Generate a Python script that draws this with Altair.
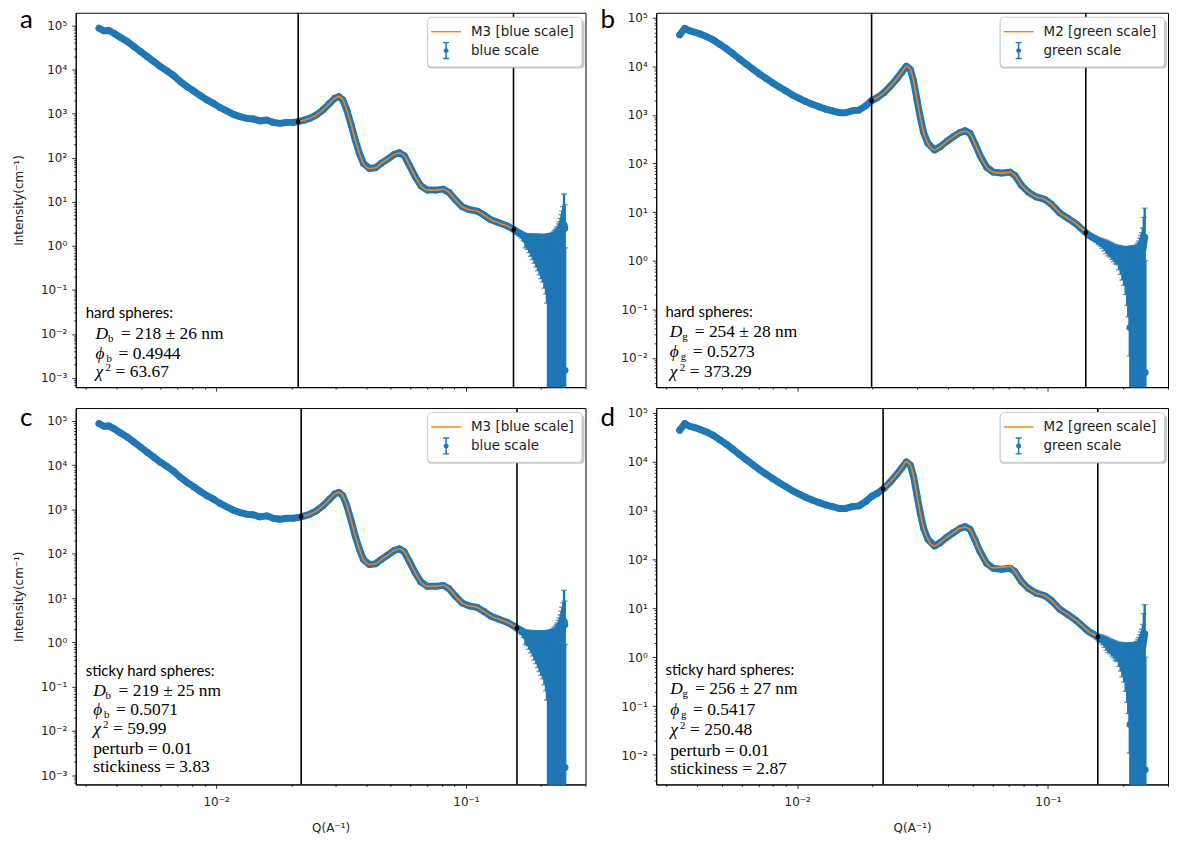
import altair as alt
import numpy as np
import pandas as pd

BLUE = "#1f77b4"
ORANGE = "#ff7f0e"

# ---------------- blue scale data (panels a, c) ----------------
q_blue = [0.003397, 0.003556, 0.003723, 0.003898, 0.004145, 0.004407, 0.004684, 0.004980, 0.005296, 0.005626,
          0.005982, 0.006362, 0.006759, 0.007187, 0.007642, 0.008122, 0.008636, 0.009183, 0.009755, 0.01037,
          0.01103, 0.01172, 0.01246, 0.01325, 0.01408, 0.01497, 0.01592, 0.01692, 0.01799, 0.01913, 0.02032,
          0.02128, 0.02262, 0.02368, 0.02519, 0.02676, 0.02846, 0.02980, 0.03099, 0.03215, 0.03335,
          0.03472, 0.03603, 0.03748, 0.03887, 0.04107, 0.04340, 0.04574, 0.04859, 0.05167, 0.05410,
          0.05662, 0.05928, 0.06265, 0.06601, 0.07012, 0.07574, 0.08095, 0.08556, 0.09099, 0.09667,
          0.1028, 0.1109, 0.1180, 0.1254, 0.1354, 0.1461]
i_blue = [86800, 75800, 77000, 66800, 53400, 43300, 33300, 25700, 19700, 15200,
          11700, 9340, 7310, 5340, 4110, 3280, 2570, 2050, 1710, 1370,
          1150, 964, 855, 782, 758, 683, 719, 634, 602, 634, 634,
          658, 719, 782, 934, 1214, 1714, 2227, 2434, 2048, 1214,
          554, 253, 125, 74.2, 57.1, 59.3, 74.2, 93.4, 119, 130,
          111, 68.3, 37, 23.1, 18.4, 18.4, 19.4, 16.3, 10.9, 7.70,
          6.68, 6.15, 4.99, 3.96, 3.33, 2.85]
q_blue_tail = [0.1553, 0.158, 0.161, 0.164, 0.167, 0.170, 0.173, 0.176, 0.179, 0.182, 0.185, 0.188,
               0.191, 0.194, 0.197, 0.200, 0.203, 0.206, 0.209, 0.211, 0.213, 0.215, 0.217, 0.219,
               0.221, 0.223, 0.225, 0.227, 0.229, 0.231, 0.233, 0.235, 0.237, 0.239, 0.241, 0.243,
               0.245, 0.247, 0.2485, 0.2495]
i_blue_tail = [2.35, 2.2, 2.05, 1.92, 1.8, 1.65, 1.4, 1.35, 1.28, 1.22, 1.17, 1.12,
               1.08, 1.05, 1.02, 1.0, 0.98, 0.96, 0.94, 0.93, 0.92, 0.91, 0.9, 0.91,
               0.92, 0.94, 0.97, 1.0, 1.05, 1.1, 1.15, 1.25, 1.35, 1.5, 1.7, 2.0,
               2.3, 3.0, 2.5, 0.0015]
err_blue_tail = [0.12, 0.16, 0.2, 0.25, 0.3, 0.35, 0.5, 0.52, 0.58, 0.64, 0.68, 0.72,
                 0.75, 0.78, 0.8, 0.82, 0.83, 0.85, 0.86, 0.88, 0.95, 0.96, 0.98, 1.0,
                 1.0, 1.05, 1.1, 1.2, 1.3, 1.45, 1.6, 1.9, 2.2, 2.7, 3.4, 4.2,
                 5.5, 12.0, 6.0, 0.9]

# ---------------- green scale data (panels b, d) ----------------
q_green = [0.003401, 0.003560, 0.003727, 0.003903, 0.004084, 0.004342, 0.004612, 0.004903, 0.005213, 0.005537,
           0.005886, 0.006258, 0.006645, 0.007066, 0.007512, 0.007979, 0.008484, 0.009020, 0.009580, 0.01018,
           0.01083, 0.01150, 0.01223, 0.01300, 0.01381, 0.01468, 0.01561, 0.01658, 0.01762, 0.01874, 0.01980,
           0.02084, 0.02214, 0.02354, 0.02500, 0.02618, 0.02725, 0.02826, 0.02912, 0.03002, 0.03097,
           0.03192, 0.03319, 0.03529, 0.03718, 0.03949, 0.04198, 0.04463, 0.04671, 0.04890, 0.05118,
           0.05358, 0.05690, 0.06048, 0.06525, 0.07047, 0.07378, 0.07834, 0.08329, 0.08986, 0.09703,
           0.1031, 0.1113, 0.1201, 0.1295]
i_green = [44400, 60500, 53500, 50100, 46500, 40900, 35100, 28500, 23000, 18200,
           14100, 11100, 8810, 6960, 5610, 4560, 3730, 3090, 2560, 2190,
           1870, 1650, 1460, 1310, 1210, 1110, 1110, 1210, 1250, 1530, 1960,
           2255, 2852, 3906, 5610, 7650, 10000, 8563, 4940, 2092, 881,
           435, 260, 190, 222, 285, 356, 435, 472, 415, 252,
           146, 84, 66.4, 63.4, 66.4, 56.9, 35.6, 26, 20.5, 18.2,
           14.6, 9.67, 7.44, 5.69]
q_green_tail = [0.1415, 0.144, 0.147, 0.150, 0.153, 0.156, 0.159, 0.162, 0.165, 0.168, 0.171, 0.174,
                0.177, 0.180, 0.183, 0.186, 0.189, 0.192, 0.195, 0.198, 0.201, 0.204, 0.207, 0.209,
                0.2115, 0.212, 0.213, 0.215, 0.217, 0.219, 0.221, 0.223, 0.225, 0.227, 0.229, 0.231,
                0.233, 0.235, 0.237, 0.239, 0.241, 0.243, 0.2445]
i_green_tail = [3.78, 3.5, 3.25, 3.05, 2.9, 2.72, 2.55, 2.42, 2.3, 2.15, 2.0, 1.88,
                1.78, 1.68, 1.58, 1.5, 1.42, 1.35, 1.27, 1.2, 1.13, 1.07, 1.02, 1.0,
                1.0, 0.042, 1.0, 1.0, 1.0, 1.0, 1.0, 1.0, 1.02, 1.05, 1.1, 1.15,
                1.22, 1.3, 1.45, 1.7, 2.3, 3.0, 0.005]
err_green_tail = [0.15, 0.18, 0.2, 0.25, 0.3, 0.35, 0.4, 0.45, 0.5, 0.55, 0.6, 0.62,
                  0.6, 0.62, 0.62, 0.64, 0.6, 0.7, 0.75, 0.8, 0.82, 0.87, 0.9, 0.93,
                  0.96, 0.031, 1.0, 1.0, 1.0, 1.0, 1.0, 1.02, 1.05, 1.1, 1.25, 1.4,
                  1.7, 2.0, 2.3, 3.0, 5.5, 9.0, 1.0]

# ---------------- model curves ----------------
q_m3_hs = [0.02128, 0.02262, 0.02368, 0.02519, 0.02676, 0.02846, 0.02980, 0.03099, 0.03215, 0.03335,
           0.03472, 0.03603, 0.03748, 0.03887, 0.04107, 0.04340, 0.04574, 0.04859, 0.05167, 0.05410,
           0.05662, 0.05928, 0.06265, 0.06601, 0.07012, 0.07574, 0.08095, 0.08556, 0.09099, 0.09667,
           0.1028, 0.1109, 0.1180, 0.1254, 0.1354, 0.1461, 0.1553]
i_m3_hs = [658, 719, 782, 934, 1214, 1714, 2227, 2434, 2048, 1214,
           554, 253, 125, 74.2, 57.1, 59.3, 74.2, 93.4, 119, 128,
           111, 68.3, 37, 23.1, 18.4, 18.4, 19.4, 16.3, 10.9, 7.70,
           6.68, 6.15, 4.99, 3.96, 3.33, 2.85, 2.35]
q_m3_shs = [0.0219, 0.02368, 0.02519, 0.02676, 0.02846, 0.02980, 0.03099, 0.03215, 0.03335,
            0.03472, 0.03603, 0.03748, 0.03887, 0.04107, 0.04340, 0.04574, 0.04859, 0.05167, 0.05410,
            0.05662, 0.05928, 0.06265, 0.06601, 0.07012, 0.07574, 0.08095, 0.08556, 0.09099, 0.09667,
            0.1028, 0.1109, 0.1180, 0.1254, 0.1354, 0.1461, 0.1553, 0.160]
i_m3_shs = [690, 782, 934, 1214, 1714, 2227, 2434, 2048, 1214,
            554, 253, 125, 74.2, 57.1, 59.3, 74.2, 93.4, 119, 130,
            111, 68.3, 37, 23.1, 18.4, 18.4, 19.4, 16.3, 10.9, 7.70,
            6.68, 6.15, 4.99, 3.96, 3.33, 2.85, 2.35, 2.1]
q_m2_hs = [0.0198, 0.02084, 0.02214, 0.02354, 0.02500, 0.02618, 0.02725, 0.02826, 0.02912, 0.03002, 0.03097,
           0.03192, 0.03319, 0.03529, 0.03718, 0.03949, 0.04198, 0.04463, 0.04671, 0.04890, 0.05118,
           0.05358, 0.05690, 0.06048, 0.06525, 0.07047, 0.07378, 0.07834, 0.08329, 0.08986, 0.09703,
           0.1031, 0.1113, 0.1201, 0.1295, 0.1415]
i_m2_hs = [1960, 2255, 2852, 3906, 5610, 7650, 10000, 8563, 4940, 2092, 881,
           435, 260, 190, 222, 285, 356, 435, 460, 405, 252,
           146, 84, 66.4, 63.4, 66.4, 56.9, 35.6, 26, 20.5, 18.2,
           14.6, 9.67, 7.44, 5.69, 3.78]
q_m2_shs = [0.0220, 0.02354, 0.02500, 0.02618, 0.02725, 0.02826, 0.02912, 0.03002, 0.03097,
            0.03192, 0.03319, 0.03529, 0.03718, 0.03949, 0.04198, 0.04463, 0.04671, 0.04890, 0.05118,
            0.05358, 0.05690, 0.06048, 0.06525, 0.07047, 0.07378, 0.07834, 0.08329, 0.08986, 0.09703,
            0.1031, 0.1113, 0.1201, 0.1295, 0.1415, 0.147, 0.153, 0.158]
i_m2_shs = [2800, 3906, 5610, 7650, 10000, 8563, 4940, 2092, 881,
            435, 260, 190, 222, 285, 356, 435, 460, 405, 252,
            146, 84, 68, 70, 72, 56.9, 35.6, 26, 20.5, 18.2,
            14.6, 9.67, 7.44, 5.69, 3.78, 3.2, 2.9, 2.6]

fit_a = [0.0213, 0.155]
fit_b = [0.0198, 0.1415]
fit_c = [0.0219, 0.160]
fit_d = [0.0220, 0.158]

x_domain = [0.00274, 0.301]
y_domain_blue = [6.2e-4, 1.95e5]
y_domain_green = [2.5e-3, 1.26e5]

# ---------------- helpers ----------------
SUP = {'-': '⁻', '0': '⁰', '1': '¹', '2': '²', '3': '³', '4': '⁴', '5': '⁵', '6': '⁶', '7': '⁷', '8': '⁸', '9': '⁹'}
EXP = "round(log(datum.value)/LN10)"
MAJOR = f"abs(log(datum.value)/LN10 - {EXP}) < 0.01"


def sup(n):
    return ''.join(SUP[c] for c in str(n))


def label_expr(exps):
    expr = "''"
    for k in reversed(exps):
        expr = f"({EXP} == {k}) ? '10{sup(k)}' : {expr}"
    return f"({MAJOR}) ? ({expr}) : ''"


def log_ticks(vmin, vmax):
    vals = []
    for e in range(-5, 7):
        for m in range(1, 10):
            v = float(f"{m}e{e}")
            if vmin <= v <= vmax:
                vals.append(v)
    return vals


TICK_SIZE = {"condition": {"test": MAJOR, "value": 4}, "value": 2}
AXIS_COMMON = dict(tickSize=TICK_SIZE, tickColor='black', tickWidth=0.8, domainColor='black',
                   labelFont='DejaVu Sans', labelFontSize=12, labelColor='#222', grid=False,
                   labelOverlap=False, labelFlush=False, labelBound=False,
                   titleFont='DejaVu Sans', titleFontSize=12, titleFontWeight='normal', titleColor='#222')

LINE_PATH = "M-1.875,-0.09H1.875V0.09H-1.875Z"
EBAR_PATH = ("M-0.094,-1H0.094V1H-0.094Z M-0.375,-1.09H0.375V-0.91H-0.375Z "
             "M-0.375,0.91H0.375V1.09H-0.375Z M0.31,0A0.31,0.31 0 1,1 -0.31,0A0.31,0.31 0 1,1 0.31,0Z")


def text_mark(s, x, y, font, size, style='normal'):
    return alt.Chart(pd.DataFrame({'t': [s]})).mark_text(
        align='left', baseline='alphabetic', font=font, fontSize=size, fontStyle=style, color='black'
    ).encode(text='t:N', x=alt.value(x), y=alt.value(y))


SERIF = 'Liberation Serif'
MS = 17.5   # math font size
SS = 11     # sub/superscript size


def annotation(header, sub, vals, extra, x_text, x_math, ys, d_off):
    marks = [text_mark(header, x_text, ys[0], 'Lato', 15)]
    marks += [text_mark('D', x_math, ys[1], SERIF, MS, 'italic'),
              text_mark(sub, x_math + 12.5, ys[1] + 3, SERIF, SS),
              text_mark(vals[0], x_math + d_off, ys[1], SERIF, MS)]
    marks += [text_mark('ϕ', x_math, ys[2], SERIF, MS, 'italic'),
              text_mark(sub, x_math + 11, ys[2] + 3, SERIF, SS),
              text_mark(vals[1], x_math + 23, ys[2], SERIF, MS)]
    marks += [text_mark('χ', x_math, ys[3], SERIF, MS, 'italic'),
              text_mark('2', x_math + 10, ys[3] - 6, SERIF, SS),
              text_mark(vals[2], x_math + 20, ys[3], SERIF, MS)]
    for k, s in enumerate(extra):
        marks.append(text_mark(s, x_math, ys[4 + k], SERIF, MS))
    return marks


def panel(q, i, qt, it, et, qm, im, fit, ydom, model_name, data_name, letter, letter_y,
          show_x, y_title, ann, width, height, leg_w):
    xs = alt.Scale(type='log', domain=x_domain, nice=False)
    ys = alt.Scale(type='log', domain=ydom, nice=False)
    x_axis = alt.Axis(values=log_ticks(*x_domain), labelExpr=label_expr([-3, -2, -1, 0]),
                      labels=show_x, title='Q(A⁻¹)' if show_x else '',
                      labelPadding=8, titlePadding=15, **AXIS_COMMON)
    y_axis = alt.Axis(values=log_ticks(*ydom), labelExpr=label_expr(list(range(-4, 7))),
                      title='Intensity(cm⁻¹)' if y_title else '',
                      labelPadding=5, titlePadding=15, **AXIS_COMMON)

    main = pd.DataFrame({'Q': q, 'I': i})
    tail = pd.DataFrame({'Q': qt, 'I': it, 'err': et})
    tail['lo'] = np.where(tail['I'] - tail['err'] > 0, tail['I'] - tail['err'], 1e-7)
    tail['hi'] = tail['I'] + tail['err']
    alldata = pd.concat([main, tail[['Q', 'I']]], ignore_index=True)
    model = pd.DataFrame({'Q': qm, 'I': im})
    ends = model.iloc[[0, -1]]
    fitdf = pd.DataFrame({'Q': fit})
    leg = pd.DataFrame({'series': [model_name, data_name]})

    X = lambda: alt.X('Q:Q', scale=xs, axis=x_axis)
    Y = lambda f: alt.Y(f, scale=ys, axis=y_axis)

    ebars = alt.Chart(tail).mark_rule(color=BLUE, strokeWidth=2.4, clip=True).encode(
        x=X(), y=Y('lo:Q'), y2='hi:Q')
    cap_hi = alt.Chart(tail).mark_tick(color=BLUE, orient='horizontal', size=6, thickness=1.3, clip=True).encode(
        x=X(), y=Y('hi:Q'))
    cap_lo = alt.Chart(tail).mark_tick(color=BLUE, orient='horizontal', size=6, thickness=1.3, clip=True).encode(
        x=X(), y=Y('lo:Q'))
    band = alt.Chart(alldata).transform_filter('datum.I > 0.3').mark_line(
        color=BLUE, strokeWidth=7, strokeCap='round', strokeJoin='round', clip=True).encode(
        x=X(), y=Y('I:Q'), order='Q:Q')
    pts = alt.Chart(alldata).mark_circle(color=BLUE, size=45, opacity=1, clip=True).encode(
        x=X(), y=Y('I:Q'))
    vlines = alt.Chart(fitdf).mark_rule(color='black', strokeWidth=1.6).encode(x=X())
    mline = alt.Chart(model).mark_line(color=ORANGE, strokeWidth=1.6, interpolate='monotone', clip=True).encode(
        x=X(), y=Y('I:Q'))
    endpts = alt.Chart(ends).mark_circle(color='black', size=22, opacity=1).encode(
        x=X(), y=Y('I:Q'))
    shadow = alt.Chart(pd.DataFrame({'s': [0]})).mark_rect(
        color='#9a9a9a', opacity=0.55, cornerRadius=4).encode(
        x=alt.value(width - 4 - leg_w + 3), x2=alt.value(width - 4 + 3),
        y=alt.value(4 + 3), y2=alt.value(4 + 49 + 3))
    legend = alt.Legend(title=None, orient='top-right', offset=4, fillColor='white', strokeColor='#cccccc',
                        cornerRadius=4, padding=7, rowPadding=3, symbolSize=256, symbolOffset=4,
                        labelOffset=17, labelFont='DejaVu Sans', labelFontSize=13.5, labelColor='#222',
                        symbolOpacity=1, symbolStrokeWidth=0)
    legl = alt.Chart(leg).mark_point(filled=True, opacity=0).encode(
        color=alt.Color('series:N', scale=alt.Scale(domain=[model_name, data_name], range=[ORANGE, BLUE]),
                        legend=legend),
        shape=alt.Shape('series:N', scale=alt.Scale(domain=[model_name, data_name], range=[LINE_PATH, EBAR_PATH]),
                        legend=legend))
    letter_mark = text_mark(letter, -56, letter_y, 'Lato', 26)

    layers = [ebars, cap_hi, cap_lo, band, pts, vlines, mline, endpts, shadow, legl, letter_mark] + ann
    return alt.layer(*layers).properties(width=width, height=height)


ann_a = annotation('hard spheres:', 'b', ['= 218 ± 26 nm', '= 0.4944', '= 63.67'], [],
                   10, 20, [307, 327.3, 347.5, 366], 25.5)
ann_b = annotation('hard spheres:', 'g', ['= 254 ± 28 nm', '= 0.5273', '= 373.29'], [],
                   9.3, 13.7, [305.7, 326, 346, 366], 25)
ann_c = annotation('sticky hard spheres:', 'b', ['= 219 ± 25 nm', '= 0.5071', '= 59.99'],
                   ['perturb = 0.01', 'stickiness = 3.83'],
                   10, 17.5, [269, 289, 308.5, 327.5, 347, 366], 25.5)
ann_d = annotation('sticky hard spheres:', 'g', ['= 256 ± 27 nm', '= 0.5417', '= 250.48'],
                   ['perturb = 0.01', 'stickiness = 2.87'],
                   9.3, 14, [268, 287.5, 308, 328.5, 349, 367.5], 25)

pa = panel(q_blue, i_blue, q_blue_tail, i_blue_tail, err_blue_tail, q_m3_hs, i_m3_hs, fit_a, y_domain_blue,
           'M3 [blue scale]', 'blue scale', 'a', 15, False, True, ann_a, 512, 376, 158)
pb = panel(q_green, i_green, q_green_tail, i_green_tail, err_green_tail, q_m2_hs, i_m2_hs, fit_b, y_domain_green,
           'M2 [green scale]', 'green scale', 'b', 15, False, False, ann_b, 514, 376, 168)
pc = panel(q_blue, i_blue, q_blue_tail, i_blue_tail, err_blue_tail, q_m3_shs, i_m3_shs, fit_c, y_domain_blue,
           'M3 [blue scale]', 'blue scale', 'c', 18, True, True, ann_c, 512, 378, 158)
pd_ = panel(q_green, i_green, q_green_tail, i_green_tail, err_green_tail, q_m2_shs, i_m2_shs, fit_d, y_domain_green,
            'M2 [green scale]', 'green scale', 'd', 18, True, False, ann_d, 514, 378, 168)

chart = alt.concat(pa, pb, pc, pd_, columns=2, spacing={'row': 21, 'column': 71}, bounds='flush').resolve_scale(
    color='independent', shape='independent'
).properties(
    padding={'left': 4, 'top': -4, 'right': 0, 'bottom': 0}
).configure_view(stroke='black', strokeWidth=1)

chart.save("out.html", embed_options={"renderer": "svg", "actions": False})
